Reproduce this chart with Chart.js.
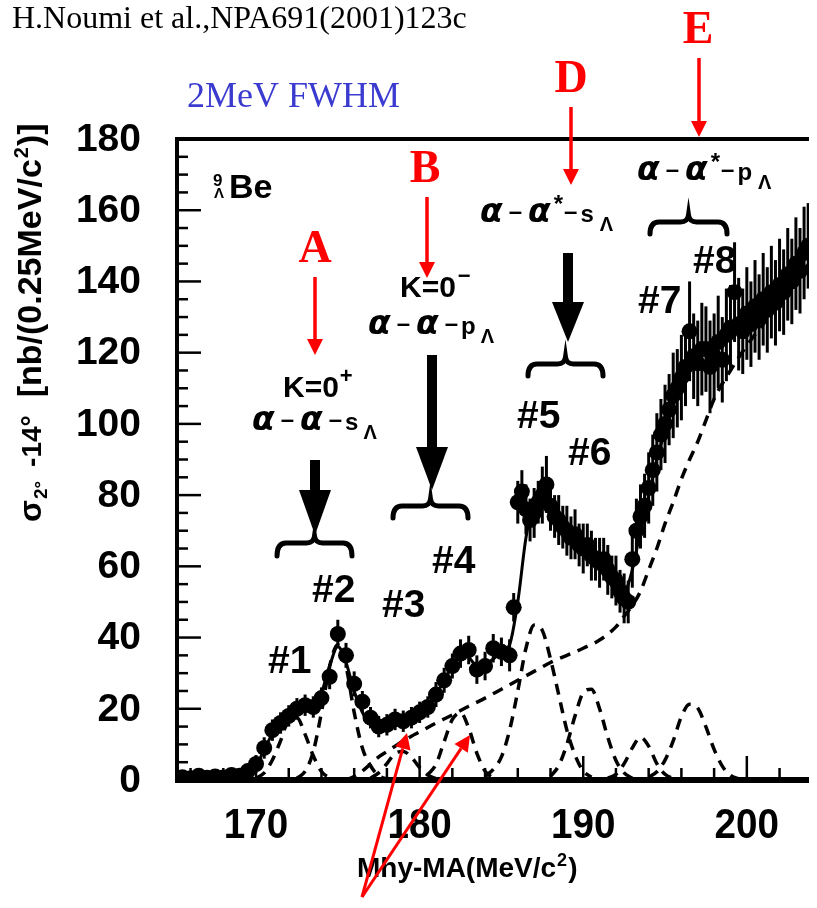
<!DOCTYPE html>
<html>
<head>
<meta charset="utf-8">
<script src="https://cdn.jsdelivr.net/npm/chart.js@4.4.1/dist/chart.umd.min.js"></script>
<style>
  html, body { margin: 0; padding: 0; background: #fff; }
  canvas { display: block; }
</style>
</head>
<body>
<canvas id="spectrum" width="817" height="908"></canvas>
<script>
// 9Be(pi+,K+) hypernuclear spectrum, 2-14 deg
// mass bins (MeV/c2) - 0.5 MeV below 186, 0.25 MeV above
const massLo = [165.5,166,166.5,167,167.5,168,168.5,169,169.5,170,170.5,171,171.5,172,172.5,173,173.5,174,174.5,175,175.5,176,176.5,177,177.5,178,178.5,179,179.5,180,180.5,181,181.5,182,182.5,183,183.5,184,184.5,185,185.5]
const xsecLo = [0.8,0.5,1.2,0.6,1.0,0.7,1.4,1.2,2.5,4.5,9,14,16,18,20,21,20.5,23,29,41,35,27,22,17.5,15,15.5,17,16.5,17.5,19,20.5,24,28,32,35.5,36.5,31,32,37,36,35]
const errLo = [1.5,1.2,1.8,1.2,1.5,1.2,1.8,1.5,2,2.5,3,3,3,3,3,3,3,3,3.5,4,3.5,3.5,3,3,3,3,3,3,3,3,3,3.5,3.5,3.5,4,4,4,4,4,4,4.5]

const massHi = [185.75,186,186.25,186.5,186.75,187,187.25,187.5,187.75,188,188.25,188.5,188.75,189,189.25,189.5,189.75,190,190.25,190.5,190.75,191,191.25,191.5,191.75,192,192.25,192.5,192.75,193,193.25,193.5,193.75,194,194.25,194.5,194.75,195,195.25,195.5,195.75,196,196.25,196.5,196.75,197,197.25,197.5,197.75,198,198.25,198.5,198.75,199,199.25,199.5,199.75,200,200.25,200.5,200.75,201,201.25,201.5,201.75,202,202.25,202.5,202.75,203,203.25,203.5,203.75]
const xsecHi = [48.5,78,81,76,73,75,78,80,83,77,74,73,71,70,68,69,66,65,66,63,62,61,62,59,57,56,53,51,50,62,70,74,77,82,87,92,97,100,104,108,110,113,116,126,119,117,121,121,116,119,123,118,125,127,137,128,126,131,128,133,130,135,132,137,134,139,137,142,140,145,143,148,150]
const errHi = [4,6,6,7,6,7,6,8,8,7,6,7,6,7,6,7,6,7,6,7,6,7,6,7,6,7,6,7,6,8,9,9,9,10,10,11,10,11,10,12,11,12,11,14,12,12,13,12,13,12,13,12,13,12,14,13,12,13,12,13,12,13,12,13,12,13,12,13,12,13,12,13,12]

// total fit
const fitMass = [169,169.5,170,170.5,171,171.5,172,172.5,173,173.5,174,174.5,175,175.5,176,176.5,177,177.5,178,178.5,179,179.5,180,180.5,181,181.5,182,182.5,183,183.5,184,184.5,185,185.5,186,186.5,187,187.5,188,188.5,189,189.5,190,190.5,191,191.5,192,192.5,193,193.5,194,194.5,195,195.5,196,196.5,197,197.5,198,198.5,199,199.5,200,200.5,201,201.5,202,202.5,203,203.5]
const fitVal = [0.5,1.5,4,8.5,13,16,18,19.5,19.5,20.5,24.5,32,37.5,33,25,19,15.5,15,15.5,17,17.5,18,19,21,24,28,32,35,34.5,32,32.5,34,36,38,50,68,78,79,76,72.5,69.5,67.5,65.5,63.5,61,58.5,55.5,53,59,70,80,90,98,105,111,116,119,120,121,122,124,126,128.5,131,133,135.5,138,140.5,143,146]

// continuum (dashed)
const bgMass = [175.5,176,176.5,177,177.5,178,178.5,179,179.5,180,181,182,183,184,185,186,187,188,189,190,191,192,192.5,193,193.5,194,194.5,195,195.5,196,196.5,197,197.5,198,199,200,201,202,203,203.8]
const bgVal = [0,1,2.5,4.5,6.5,8,9.5,11,12.3,13.5,16,18.3,20.7,23,25.5,28,30.5,33,35,37,39.3,43,46,49,53,59,65,72,78,84.5,90,95,101,107,115,122,128,134,140,145]

// peaks #1..#8 (dashed)
const p1Mass = [170,170.5,171,171.5,172,172.5,173,173.5,174,174.5,175]
const p1Val = [0.5,2,5.6,11,16.9,17.5,12.8,6.8,2.4,0.6,0]
const p2Mass = [172.5,173,173.5,174,174.5,175,175.5,176,176.5,177,177.5,178]
const p2Val = [0.5,2.4,8,19,32,38,32,19,9,4,1.2,0.3]
const p3Mass = [177,177.5,178,178.5,179,179.5,180,180.5,181]
const p3Val = [0.5,2,4.6,7.5,8,6.4,3.5,1.4,0.4]
const p4Mass = [180.5,181,181.5,182,182.5,183,183.5,184,184.5]
const p4Val = [1.5,4.4,10.8,17,18.9,14.6,7.5,2.5,0.5]
const p5Mass = [184,184.5,185,185.5,186,186.5,187,187.5,188,188.5,189,189.5,190,190.5]
const p5Val = [1,3,6.5,14,25,37,43.5,42,34,24,14,7,2.5,0.8]
const p6Mass = [188,188.5,189,189.5,190,190.5,191,191.5,192,192.5,193]
const p6Val = [1,4,10,18,24.5,25.5,20,12,5.5,2,0.5]
const p7Mass = [191.5,192,192.5,193,193.5,194,194.5,195,195.5]
const p7Val = [0.5,1.6,4.6,9,12,9.5,4.6,1.6,0.4]
const p8Mass = [194,194.5,195,195.5,196,196.5,197,197.5,198,198.5,199,199.5]
const p8Val = [0.8,2.3,5.6,11,17.8,21.3,20.2,14.9,8.6,3.9,1.3,0.3]

// axis labels
const xTickLabels = [170, 180, 190, 200]
const yTickLabels = [0, 20, 40, 60, 80, 100, 120, 140, 160, 180]

const SANS = '"Liberation Sans", Arial, sans-serif'
const SERIF = '"Liberation Serif", "Times New Roman", serif'
const GRK = 'bold italic 33px "DejaVu Sans"'

const pts = (xs, ys) => xs.map((x, i) => ({x: x, y: ys[i]}))
const dataPts = pts(massLo, xsecLo).concat(pts(massHi, xsecHi))
const dataErr = errLo.concat(errHi)

function dashed(xs, ys) {
    return {
        type: 'line',
        data: pts(xs, ys),
        borderColor: '#000',
        borderWidth: 3.5,
        borderDash: [11, 8],
        pointRadius: 0,
        fill: false,
        cubicInterpolationMode: 'monotone'
    }
}

// ---- drawing helpers for the annotations ----
function run(ctx, x, y, pieces) {
    pieces.forEach(p => {
        ctx.font = p[1]
        ctx.fillText(p[0], x, y + (p[2] || 0))
        x += ctx.measureText(p[0]).width + (p[3] || 0)
    })
}

function brace(ctx, x0, x1, yBar, h) {
    const xm = (x0 + x1) / 2
    ctx.beginPath()
    ctx.moveTo(x0, yBar + h)
    ctx.quadraticCurveTo(x0, yBar, x0 + 9, yBar)
    ctx.lineTo(xm - 8, yBar)
    ctx.quadraticCurveTo(xm - 1, yBar, xm, yBar - 7)
    ctx.quadraticCurveTo(xm + 1, yBar, xm + 8, yBar)
    ctx.lineTo(x1 - 9, yBar)
    ctx.quadraticCurveTo(x1, yBar, x1, yBar + h)
    ctx.stroke()
}

function bigArrow(ctx, x, yTop, yHead, yTip) {
    ctx.fillRect(x - 5, yTop, 10, yHead - yTop + 1)
    ctx.beginPath()
    ctx.moveTo(x - 16, yHead)
    ctx.lineTo(x + 16, yHead)
    ctx.lineTo(x, yTip)
    ctx.closePath()
    ctx.fill()
}

function redArrow(ctx, x1, y1, x2, y2) {
    const a = Math.atan2(y2 - y1, x2 - x1)
    const hl = 16, hw = 8
    const bx = x2 - hl * Math.cos(a), by = y2 - hl * Math.sin(a)
    ctx.beginPath()
    ctx.moveTo(x1, y1)
    ctx.lineTo(bx, by)
    ctx.stroke()
    ctx.beginPath()
    ctx.moveTo(x2, y2)
    ctx.lineTo(bx + hw * Math.sin(a), by - hw * Math.cos(a))
    ctx.lineTo(bx - hw * Math.sin(a), by + hw * Math.cos(a))
    ctx.closePath()
    ctx.fill()
}

const decor = {
    id: 'decor',
    beforeDraw(chart) {
        const ctx = chart.ctx
        ctx.save()
        ctx.fillStyle = '#fff'
        ctx.fillRect(0, 0, chart.width, chart.height)
        ctx.restore()
    },
    afterDatasetsDraw(chart) {
        // error bars
        const ctx = chart.ctx, xs = chart.scales.x, ys = chart.scales.y, ca = chart.chartArea
        ctx.save()
        ctx.beginPath()
        ctx.rect(ca.left, ca.top, ca.right - ca.left, ca.bottom - ca.top)
        ctx.clip()
        ctx.strokeStyle = '#000'
        ctx.lineWidth = 3
        dataPts.forEach((p, i) => {
            const px = xs.getPixelForValue(p.x)
            ctx.beginPath()
            ctx.moveTo(px, ys.getPixelForValue(p.y - dataErr[i]))
            ctx.lineTo(px, ys.getPixelForValue(p.y + dataErr[i]))
            ctx.stroke()
        })
        ctx.restore()
    },
    afterDraw(chart) {
        const ctx = chart.ctx, xs = chart.scales.x, ys = chart.scales.y, ca = chart.chartArea
        ctx.save()
        ctx.fillStyle = '#000'
        ctx.strokeStyle = '#000'

        // frame
        ctx.lineWidth = 4
        ctx.beginPath()
        ctx.moveTo(ca.left, ca.bottom + 3)
        ctx.lineTo(ca.left, ca.top)
        ctx.lineTo(ca.right, ca.top)
        ctx.stroke()
        ctx.lineWidth = 6
        ctx.beginPath()
        ctx.moveTo(ca.left - 2, ca.bottom)
        ctx.lineTo(ca.right, ca.bottom)
        ctx.stroke()

        // ticks
        ctx.lineWidth = 2.5
        for (let v = 0; v <= 180; v += 5) {
            const py = ys.getPixelForValue(v)
            ctx.beginPath()
            ctx.moveTo(ca.left, py)
            ctx.lineTo(ca.left + (v % 20 === 0 ? 24 : 11), py)
            ctx.stroke()
        }
        for (let v = 166; v <= 203; v += 2) {
            const px = xs.getPixelForValue(v)
            ctx.beginPath()
            ctx.moveTo(px, ca.bottom)
            ctx.lineTo(px, ca.bottom - (v % 10 === 0 ? 24 : 12))
            ctx.stroke()
        }

        // tick labels
        ctx.font = 'bold 39px ' + SANS
        ctx.textAlign = 'right'
        ctx.textBaseline = 'middle'
        yTickLabels.forEach(v => ctx.fillText(String(v), 141, ys.getPixelForValue(v) + 1))
        ctx.textAlign = 'center'
        ctx.textBaseline = 'alphabetic'
        ctx.font = 'bold 42px ' + SANS
        xTickLabels.forEach(v => {
            ctx.save()
            ctx.translate(xs.getPixelForValue(v), 838)
            ctx.scale(0.92, 1)
            ctx.fillText(String(v), 0, 0)
            ctx.restore()
        })

        // axis titles
        ctx.textAlign = 'left'
        run(ctx, 357, 877, [['Mhy-MA(MeV/c', 'bold 28px ' + SANS, 0, 1], ['2', 'bold 18px ' + SANS, -11, 1], [')', 'bold 28px ' + SANS, 0, 0]])

        ctx.save()
        ctx.translate(41, 522)
        ctx.rotate(-Math.PI / 2)
        run(ctx, 0, 0, [
            ['σ', 'bold 32px ' + SANS, 0, 1],
            ['2°', 'bold 19px ' + SANS, 6, 14],
            ['-14°', 'bold 28px ' + SANS, 0, 18],
            ['[nb/(0.25MeV/c', 'bold 34px ' + SANS, 0, 1],
            ['2', 'bold 20px ' + SANS, -13, 1],
            [')]', 'bold 34px ' + SANS, 0, 0]
        ])
        ctx.restore()

        // header texts
        ctx.font = '32px ' + SERIF
        ctx.fillText('H.Noumi et al.,NPA691(2001)123c', 12, 28)
        ctx.fillStyle = '#3b3bd0'
        ctx.font = '36px ' + SERIF
        ctx.fillText('2MeV FWHM', 187, 107)
        ctx.fillStyle = '#000'

        // nucleus label
        run(ctx, 213, 186, [['9', 'bold 17px ' + SANS, 0, 0]])
        run(ctx, 214, 198, [['Λ', 'bold 15px ' + SANS, 0, 0]])
        run(ctx, 229, 198, [['Be', 'bold 34px ' + SANS, 0, 0]])

        // configuration labels
        const B30 = 'bold 30px ' + SANS, B24 = 'bold 24px ' + SANS, B20 = 'bold 20px ' + SANS, B22 = 'bold 22px ' + SANS
        const D = '–'
        run(ctx, 283, 397, [['K=0', B30, 0, 1], ['+', B22, -14, 0]])
        run(ctx, 252, 430, [['α', GRK, 0, 6], [D, B24, -3, 6], ['α', GRK, 0, 6], [D, B24, -3, 3], ['s', B24, 0, 5], ['Λ', B20, 9, 0]])
        run(ctx, 400, 297, [['K=0', B30, 0, 2], ['−', B22, -14, 0]])
        run(ctx, 368, 334, [['α', GRK, 0, 6], [D, B24, -3, 6], ['α', GRK, 0, 6], [D, B24, -3, 3], ['p', B24, 0, 5], ['Λ', B20, 9, 0]])
        run(ctx, 480, 222, [['α', GRK, 0, 6], [D, B24, -3, 6], ['α', GRK, 0, 3], ['*', B24, -10, 1], [D, B24, -3, 3], ['s', B24, 0, 6], ['Λ', B20, 9, 0]])
        run(ctx, 637, 180, [['α', GRK, 0, 6], [D, B24, -3, 6], ['α', GRK, 0, 3], ['*', B24, -10, 1], [D, B24, -3, 3], ['p', B24, 0, 6], ['Λ', B20, 9, 0]])

        // state numbers
        ctx.font = 'bold 39px ' + SANS
        ;[['#1', 268, 673], ['#2', 312, 602], ['#3', 382, 617], ['#4', 432, 573],
          ['#5', 517, 428], ['#6', 568, 465], ['#7', 638, 313], ['#8', 693, 273]]
            .forEach(t => ctx.fillText(t[0], t[1], t[2]))

        // black arrows and braces
        bigArrow(ctx, 315, 460, 490, 535)
        bigArrow(ctx, 432, 355, 447, 490)
        bigArrow(ctx, 568, 253, 302, 342)
        ctx.lineWidth = 5
        ctx.lineCap = 'round'
        brace(ctx, 277, 352, 543, 13)
        brace(ctx, 393, 468, 506, 12)
        brace(ctx, 528, 603, 364, 12)
        brace(ctx, 650, 727, 222, 12)
        ctx.lineCap = 'butt'

        // red markers
        ctx.fillStyle = '#ff0000'
        ctx.strokeStyle = '#ff0000'
        ctx.font = 'bold 46px ' + SERIF
        ctx.textAlign = 'center'
        ctx.fillText('A', 315, 262)
        ctx.fillText('B', 425, 182)
        ctx.fillText('D', 571, 92)
        ctx.fillText('E', 698, 43)
        ctx.lineWidth = 3.5
        redArrow(ctx, 315, 277, 315, 355)
        redArrow(ctx, 427, 197, 427, 278)
        redArrow(ctx, 571, 107, 571, 185)
        redArrow(ctx, 699, 58, 699, 137)
        ctx.lineWidth = 3
        redArrow(ctx, 362, 897, 407, 733)
        redArrow(ctx, 362, 897, 470, 735)
        ctx.restore()
    }
}

const ctx = document.getElementById('spectrum').getContext('2d')

const config = {
    type: 'scatter',
    data: {
        datasets: [
            {
                type: 'scatter',
                data: dataPts,
                pointRadius: 8,
                pointBackgroundColor: '#000',
                pointBorderWidth: 0,
                showLine: false
            },
            {
                type: 'line',
                data: pts(fitMass, fitVal),
                borderColor: '#000',
                borderWidth: 3,
                pointRadius: 0,
                fill: false,
                cubicInterpolationMode: 'monotone'
            },
            dashed(bgMass, bgVal),
            dashed(p1Mass, p1Val),
            dashed(p2Mass, p2Val),
            dashed(p3Mass, p3Val),
            dashed(p4Mass, p4Val),
            dashed(p5Mass, p5Val),
            dashed(p6Mass, p6Val),
            dashed(p7Mass, p7Val),
            dashed(p8Mass, p8Val)
        ]
    },
    options: {
        responsive: false,
        animation: false,
        devicePixelRatio: 1,
        layout: { padding: { left: 177, right: 0, top: 139, bottom: 128 } },
        plugins: { legend: { display: false }, tooltip: { enabled: false }, title: { display: false } },
        scales: {
            x: { type: 'linear', min: 165.17, max: 203.8, display: false },
            y: { type: 'linear', min: 0, max: 180, display: false }
        }
    },
    plugins: [decor]
}

const spectrumChart = new Chart(ctx, config)
</script>
</body>
</html>
